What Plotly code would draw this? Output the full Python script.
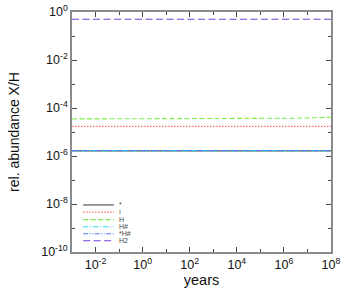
import plotly.graph_objects as go

# ---- data ----
years = [1e-3, 1e-2, 1e-1, 1e0, 1e1, 1e2, 1e3, 1e4, 3e4, 1e5, 3e5, 1e6, 3e6, 1e7, 3e7, 1e8]
ab_star = [1.64e-6] * 16
ab_bang = [1.72e-5] * 16
ab_H = [3.5e-5, 3.5e-5, 3.5e-5, 3.5e-5, 3.5e-5, 3.5e-5, 3.5e-5, 3.5e-5, 3.52e-5,
        3.55e-5, 3.6e-5, 3.67e-5, 3.75e-5, 3.85e-5, 3.95e-5, 4.1e-5]
ab_Hh = [1.68e-6] * 16
ab_starHh = [1.70e-6] * 16
ab_H2 = [0.5] * 16

series_names = ["*", "!", "H", "H#", "*H#", "H2"]
series_vals = [ab_star, ab_bang, ab_H, ab_Hh, ab_starHh, ab_H2]
colors = ["#4a4a4a", "#ff6b6b", "#7cf04a", "#22e0ee", "#4f7cff", "#7442d8"]
dashes = ["solid", "1.5px,1.5px", "5px,2.5px", "5px,2px,1px,2px",
          "5px,1.5px,1px,1.5px,1px,1.5px", "7px,3.5px"]

xtick_vals = [1e-2, 1e0, 1e2, 1e4, 1e6, 1e8]
xtick_text = ["10<sup>-2</sup>", "10<sup>0</sup>", "10<sup>2</sup>", "10<sup>4</sup>",
              "10<sup>6</sup>", "10<sup>8</sup>"]
xminor_vals = [1e-3, 1e-1, 1e1, 1e3, 1e5, 1e7]
ytick_vals = [1e0, 1e-2, 1e-4, 1e-6, 1e-8, 1e-10]
ytick_text = ["10<sup>0</sup>", "10<sup>-2</sup>", "10<sup>-4</sup>", "10<sup>-6</sup>",
              "10<sup>-8</sup>", "10<sup>-10</sup>"]
yminor_vals = [1e-1, 1e-3, 1e-5, 1e-7, 1e-9]

FONT = "Liberation Sans, Arial, Helvetica, sans-serif"

fig = go.Figure()
for name, vals, c, d in zip(series_names, series_vals, colors, dashes):
    fig.add_trace(go.Scatter(x=years, y=vals, mode="lines", name=name,
                             line=dict(color=c, width=1.1, dash=d),
                             showlegend=False, hoverinfo="skip"))

# compact legend (lower left) built from shapes + text
leg_y = [0.196, 0.166, 0.135, 0.105, 0.076, 0.047]
shapes = []
annotations = []
for name, c, d, yy in zip(series_names, colors, dashes, leg_y):
    shapes.append(dict(type="line", xref="paper", yref="paper",
                       x0=0.043, x1=0.162, y0=yy, y1=yy,
                       line=dict(color=c, width=1.1, dash=d)))
    annotations.append(dict(xref="paper", yref="paper", x=0.175, y=yy,
                            text=name, showarrow=False, xanchor="left",
                            yanchor="middle", font=dict(size=7, color="#444",
                                                        family=FONT)))

axis_common = dict(
    showline=True, linecolor="#8a8a8a", linewidth=1.5, mirror="ticks",
    ticks="inside", ticklen=5, tickwidth=1, tickcolor="#444",
    showgrid=False, zeroline=False, automargin=False,
    tickfont=dict(size=12.5, color="#111", family=FONT),
)

fig.update_xaxes(type="log", range=[-3, 8], tickvals=xtick_vals, ticktext=xtick_text,
                 minor=dict(ticks="inside", ticklen=3, tickvals=xminor_vals,
                            tickcolor="#444", showgrid=False),
                 title=dict(text="years", font=dict(size=14.5, color="#111", family=FONT),
                            standoff=2),
                 **axis_common)
fig.update_yaxes(type="log", range=[-10, 0], tickvals=ytick_vals, ticktext=ytick_text,
                 minor=dict(ticks="inside", ticklen=3, tickvals=yminor_vals,
                            tickcolor="#444", showgrid=False),
                 title=dict(text="rel. abundance X/H",
                            font=dict(size=14, color="#111", family=FONT), standoff=18),
                 **axis_common)

fig.update_layout(
    template="none",
    width=354, height=295,
    margin=dict(l=72, r=23, t=12, b=43, autoexpand=False),
    paper_bgcolor="white", plot_bgcolor="white",
    shapes=shapes, annotations=annotations,
    showlegend=False,
    font=dict(family=FONT),
)

# remove the browser's default 8px body margin so the figure sits at (0, 0)
fig.write_html("out.html",
               config={"displayModeBar": False},
               post_script="document.body.style.margin='0';document.body.style.overflow='hidden';")
